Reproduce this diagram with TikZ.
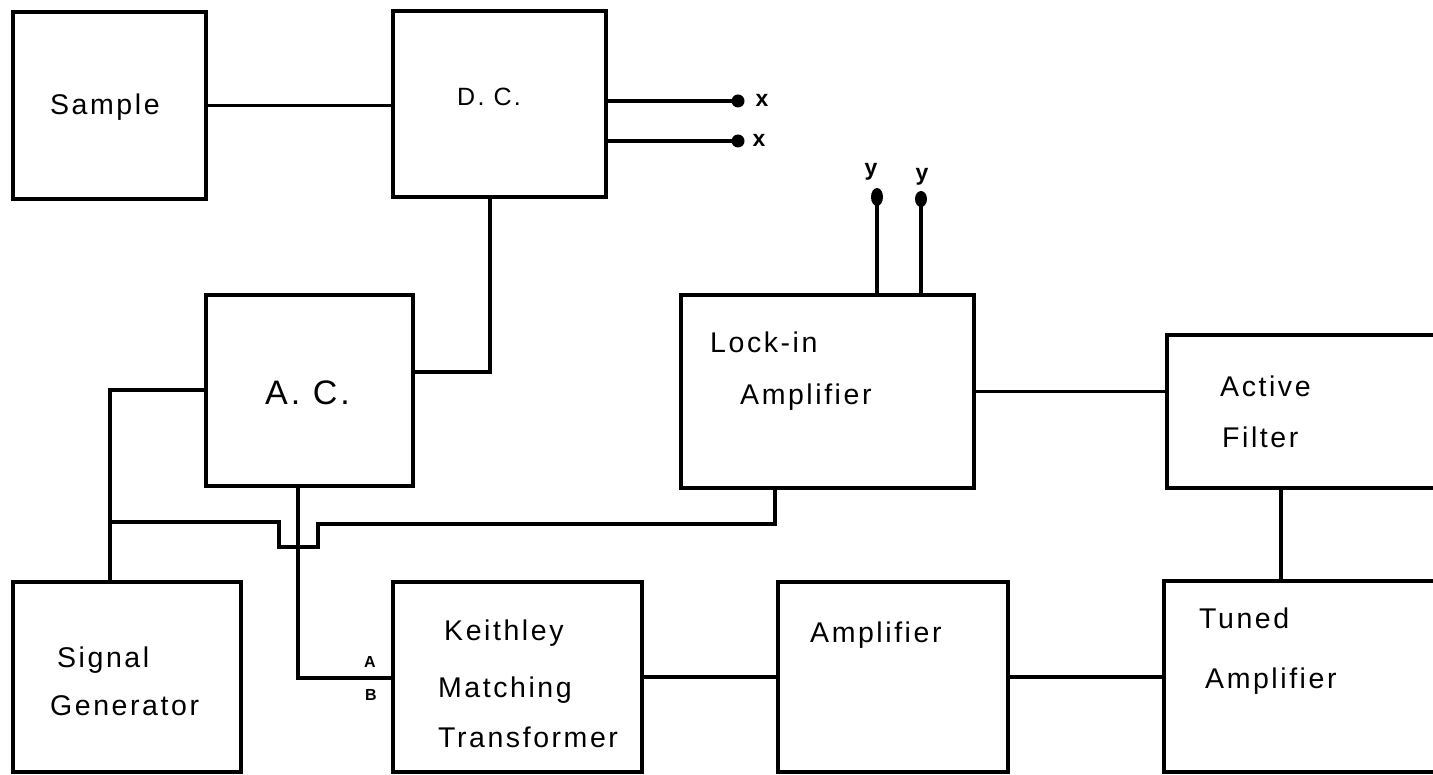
\documentclass[tikz,border=0pt]{standalone}
\usepackage{fontspec}
\newfontfamily\hand[LetterSpace=9]{Liberation Sans}
\begin{document}
\begin{tikzpicture}[x=1pt,y=-1pt,
  box/.style={draw, rectangle, line width=4.2pt, inner sep=0pt, line join=miter},
  wire/.style={line width=3.6pt},
  lbl/.style={anchor=base west, inner sep=0pt, font=\hand\fontsize{28.5}{30}\selectfont},
  small/.style={inner sep=0pt, font=\hand\bfseries\fontsize{16}{18}\selectfont},
  term/.style={inner sep=0pt, font=\hand\bfseries\fontsize{23}{25}\selectfont}]
\useasboundingbox (0,0) rectangle (1433,775);
\clip (0,0) rectangle (1433,775);
\fill[white] (0,0) rectangle (1433,775);
% boxes
\node[box, minimum width=193pt, minimum height=187pt] (sample) at (109.5,105.5) {};
\node[box, minimum width=213pt, minimum height=186pt] (dc) at (499.5,104) {};
\node[box, minimum width=207pt, minimum height=191pt] (ac) at (309.5,390.5) {};
\node[box, minimum width=293pt, minimum height=193pt] (lockin) at (827.5,391.5) {};
\node[box, minimum width=278pt, minimum height=153pt] (active) at (1306,411.5) {};
\node[box, minimum width=228pt, minimum height=190pt] (sg) at (127,677) {};
\node[box, minimum width=249pt, minimum height=190pt] (keith) at (517.5,677) {};
\node[box, minimum width=230pt, minimum height=190pt] (amp) at (893,677) {};
\node[box, minimum width=281pt, minimum height=191pt] (tuned) at (1304.5,676.5) {};
% labels
\node[lbl] (tsample) at (50,115) {Sample};
\node[lbl, font=\hand\fontsize{25}{27}\selectfont] (tdc) at (457,106) {D. C.};
\node[lbl, font=\hand\fontsize{34}{36}\selectfont] (tac) at (265,405) {A. C.};
\node[lbl] (tlock) at (710,353) {Lock-in};
\node[lbl] (tlamp) at (740,405) {Amplifier};
\node[lbl] (tact) at (1220,397) {Active};
\node[lbl] (tfil) at (1222,448) {Filter};
\node[lbl] (ttun) at (1199,628) {Tuned};
\node[lbl] (ttamp) at (1205,688) {Amplifier};
\node[lbl] (tamp) at (810,642) {Amplifier};
\node[lbl] (tkei) at (444,640) {Keithley};
\node[lbl] (tmat) at (438,697) {Matching};
\node[lbl] (ttra) at (438,747) {Transformer};
\node[lbl] (tsig) at (57,667) {Signal};
\node[lbl] (tgen) at (50,715) {Generator};
% connectors
\draw[wire] (sample.east) -- (sample.east -| dc.west);
\draw[wire] ([xshift=-9.5pt]dc.south) |- ([yshift=18.5pt]ac.east);
\coordinate (x1) at (738,101);
\coordinate (x2) at (738,141);
\draw[wire] (dc.east |- x1) -- (x1);
\draw[wire] (dc.east |- x2) -- (x2);
\fill (x1) circle (6.5);
\fill (x2) circle (6.5);
\node[term] (xl1) at (762,100) {x};
\node[term] (xl2) at (759,140) {x};
\coordinate (y1) at (877,197);
\coordinate (y2) at (921,199);
\draw[wire] (y1) -- (y1 |- lockin.north);
\draw[wire] (y2) -- (y2 |- lockin.north);
\fill (y1) ellipse (6 and 9);
\fill (y2) ellipse (6 and 8);
\node[term] (yl1) at (871,172) {y};
\node[term] (yl2) at (922,177) {y};
\draw[wire] (lockin.east) -- (lockin.east -| active.west);
\draw[wire] ([xshift=-25pt]active.south) -- ([xshift=-25pt]active.south |- tuned.north);
\draw[wire] ([xshift=-17pt]sg.north) |- ([yshift=0.5pt]ac.west);
\coordinate (j1) at (110,522);
\draw[wire, line join=miter] (j1) -- ++(169,0) -- ++(0,25) -- ++(39,0) -- ++(0,-23) -| ([xshift=-52.5pt]lockin.south);
\draw[wire] ([xshift=-11.5pt]ac.south) |- ([yshift=-1pt]keith.west);
\node[small] (la) at (370,662) {A};
\node[small] (lb) at (371,695) {B};
\draw[wire] (keith.east) -- (amp.west);
\draw[wire] (amp.east) -- (amp.east -| tuned.west);
\end{tikzpicture}
\end{document}
